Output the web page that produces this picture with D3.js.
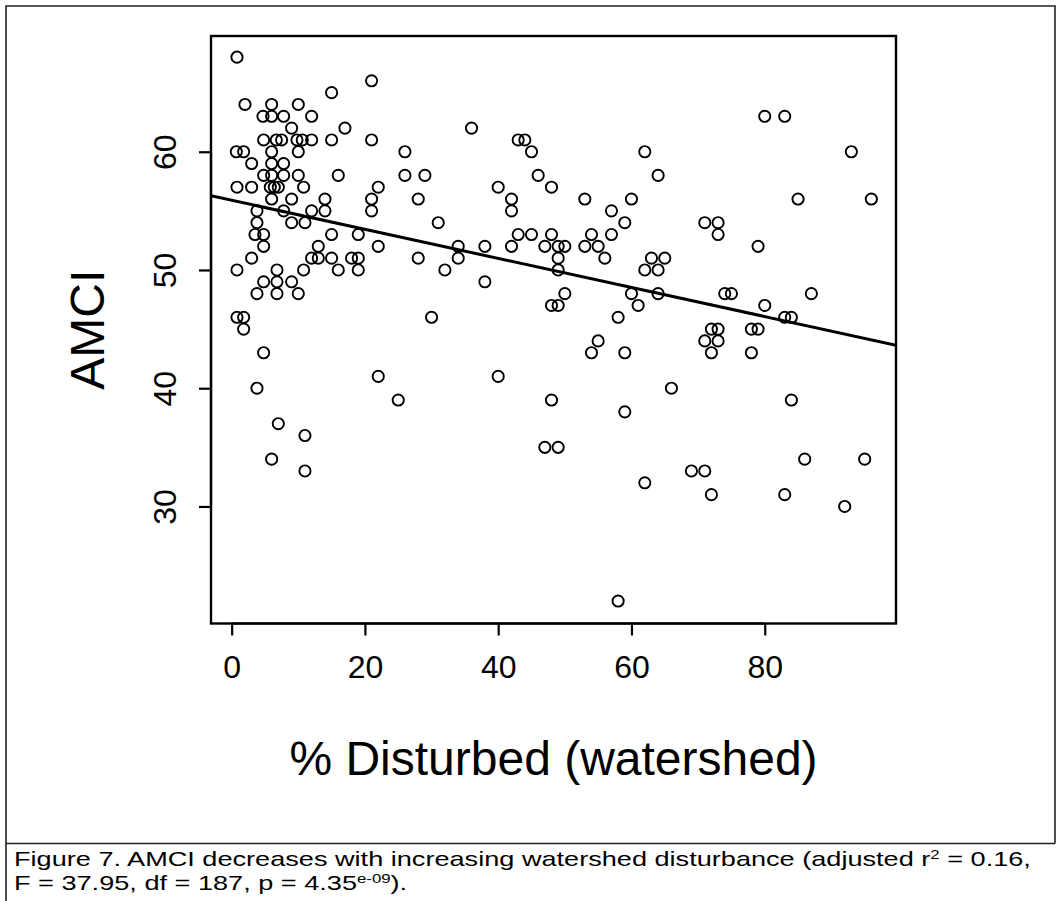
<!DOCTYPE html>
<html>
<head>
<meta charset="utf-8">
<script src="https://cdn.jsdelivr.net/npm/d3@7"></script>
<style>
  body { margin: 0; background: #fff; }
  svg { display: block; }
  text { font-family: "Liberation Sans", Arial, Helvetica, sans-serif; fill: #000; }
</style>
</head>
<body>
<svg id="fig" width="1061" height="901"></svg>
<script>
// % of watershed disturbed and AMCI score for each site (paired by index)
const disturbed = [
  0.8,
  21,
  15,
  2, 6, 10,
  4.7, 6, 7.8, 12, 80, 83,
  9, 17, 36,
  4.8, 6.7, 7.5, 9.8, 10.6, 12, 15, 21, 43, 44,
  0.7, 1.8, 6, 10, 26, 45, 62, 93,
  3, 6, 7.8,
  4.8, 6, 7.8, 10, 16, 26, 29, 46, 64,
  0.8, 3, 5.8, 6.4, 7, 10.8, 22, 40, 48,
  6, 9, 14, 21, 28, 42, 53, 60, 85, 96,
  3.8, 7.8, 12, 14, 21, 42, 57,
  3.8, 9, 11, 31, 59, 71, 73,
  3.5, 4.8, 15, 19, 43, 45, 48, 54, 57, 73,
  4.8, 13, 22, 34, 38, 42, 47, 49, 50, 53, 55, 79,
  3, 12, 13, 15, 18, 19, 28, 34, 49, 56, 63, 65,
  0.8, 6.8, 10.8, 16, 19, 32, 49, 62, 64,
  4.8, 6.8, 9, 38,
  3.8, 6.8, 10, 50, 60, 64, 74, 75, 87,
  48, 49, 61, 80,
  0.8, 1.8, 30, 58, 83, 84,
  1.8, 72, 73, 78, 79,
  55, 71, 73,
  4.8, 54, 59, 72, 78,
  22, 40,
  3.8, 66,
  25, 48, 84,
  59,
  7,
  11,
  47, 49,
  6, 86, 95,
  11, 69, 71,
  62,
  72, 83,
  92,
  58
];
const amci = [
  68,
  66,
  65,
  64, 64, 64,
  63, 63, 63, 63, 63, 63,
  62, 62, 62,
  61, 61, 61, 61, 61, 61, 61, 61, 61, 61,
  60, 60, 60, 60, 60, 60, 60, 60,
  59, 59, 59,
  58, 58, 58, 58, 58, 58, 58, 58, 58,
  57, 57, 57, 57, 57, 57, 57, 57, 57,
  56, 56, 56, 56, 56, 56, 56, 56, 56, 56,
  55, 55, 55, 55, 55, 55, 55,
  54, 54, 54, 54, 54, 54, 54,
  53, 53, 53, 53, 53, 53, 53, 53, 53, 53,
  52, 52, 52, 52, 52, 52, 52, 52, 52, 52, 52, 52,
  51, 51, 51, 51, 51, 51, 51, 51, 51, 51, 51, 51,
  50, 50, 50, 50, 50, 50, 50, 50, 50,
  49, 49, 49, 49,
  48, 48, 48, 48, 48, 48, 48, 48, 48,
  47, 47, 47, 47,
  46, 46, 46, 46, 46, 46,
  45, 45, 45, 45, 45,
  44, 44, 44,
  43, 43, 43, 43, 43,
  41, 41,
  40, 40,
  39, 39, 39,
  38,
  37,
  36,
  35, 35,
  34, 34, 34,
  33, 33, 33,
  32,
  31, 31,
  30,
  22
];

const xTicks = [0, 20, 40, 60, 80];
const yTicks = [30, 40, 50, 60];

// Least-squares fit reported with the figure: AMCI = a + b * disturbed
const fitIntercept = 55.9;
const fitSlope = -0.123;

const xLabel = "% Disturbed (watershed)";
const yLabel = "AMCI";
const captionLine1 = ["Figure 7. AMCI decreases with increasing watershed disturbance (adjusted r", "2", " = 0.16,"];
const captionLine2 = ["F = 37.95, df = 187, p = 4.35", "e-09", ")."];

const points = disturbed.map((d, i) => ({ x: d, y: amci[i] }));

const svg = d3.select("#fig");
svg.append("rect").attr("width", 1061).attr("height", 901).attr("fill", "#fff");

// plot region
const box = { left: 211, right: 896, top: 36, bottom: 623.5 };
const x = d3.scaleLinear().domain([-3.1, 99.7]).range([box.left, box.right]);
const y = d3.scaleLinear().domain([20.1, 69.79]).range([box.bottom, box.top]);

// outer figure frame and caption divider
const frame = svg.append("g").attr("fill", "none").attr("stroke", "#222").attr("stroke-width", 1.6);
frame.append("path").attr("d", "M6,901 V6 H1055 V843.5");
frame.append("line").attr("x1", 6).attr("x2", 1055).attr("y1", 843.5).attr("y2", 843.5);

// clip for marks inside the plotting box
svg.append("clipPath").attr("id", "plotclip")
  .append("rect")
  .attr("x", box.left).attr("y", box.top)
  .attr("width", box.right - box.left).attr("height", box.bottom - box.top);

// points
svg.append("g")
  .selectAll("circle")
  .data(points)
  .join("circle")
  .attr("cx", d => x(d.x))
  .attr("cy", d => y(d.y))
  .attr("r", 5.6)
  .attr("fill", "none")
  .attr("stroke", "#000")
  .attr("stroke-width", 1.9);

// regression line across the full plot width
const [x0, x1] = x.domain();
svg.append("line")
  .attr("clip-path", "url(#plotclip)")
  .attr("x1", x(x0)).attr("y1", y(fitIntercept + fitSlope * x0))
  .attr("x2", x(x1)).attr("y2", y(fitIntercept + fitSlope * x1))
  .attr("stroke", "#000")
  .attr("stroke-width", 3);

// axes
const tickLen = 12;
const xAxis = svg.append("g")
  .attr("transform", `translate(0,${box.bottom})`)
  .call(d3.axisBottom(x).tickValues(xTicks).tickSize(tickLen).tickPadding(20).tickSizeOuter(0));
xAxis.select(".domain").attr("d", `M${x(xTicks[0])},0H${x(xTicks[xTicks.length - 1])}`);

const yAxis = svg.append("g")
  .attr("transform", `translate(${box.left},0)`)
  .call(d3.axisLeft(y).tickValues(yTicks).tickSize(tickLen).tickSizeOuter(0));
yAxis.select(".domain").attr("d", `M0,${y(yTicks[0])}V${y(yTicks[yTicks.length - 1])}`);

[xAxis, yAxis].forEach(g => {
  g.selectAll(".domain").attr("stroke", "#000").attr("stroke-width", 2.2);
  g.selectAll(".tick line").attr("stroke", "#000").attr("stroke-width", 2.2);
  g.selectAll(".tick text")
    .attr("font-family", "Liberation Sans, Arial, sans-serif")
    .attr("font-size", 32)
    .attr("fill", "#000");
});
xAxis.selectAll(".tick text").attr("dy", "0.71em");

// y tick labels read upward, parallel to the axis
yAxis.selectAll(".tick text")
  .attr("x", null).attr("dy", null)
  .attr("text-anchor", "middle")
  .attr("transform", "translate(-46,0) rotate(-90)")
  .attr("dy", "0.35em");

// plotting box
svg.append("rect")
  .attr("x", box.left).attr("y", box.top)
  .attr("width", box.right - box.left).attr("height", box.bottom - box.top)
  .attr("fill", "none").attr("stroke", "#000").attr("stroke-width", 2.4);

// axis titles
svg.append("text")
  .attr("x", (box.left + box.right) / 2).attr("y", 775)
  .attr("text-anchor", "middle")
  .attr("font-size", 48)
  .text(xLabel);

svg.append("text")
  .attr("transform", `translate(104,${(box.top + box.bottom) / 2}) rotate(-90)`)
  .attr("text-anchor", "middle")
  .attr("font-size", 48)
  .text(yLabel);

// caption, two lines with superscripts
function captionLine(parts, baseline) {
  const t = svg.append("text")
    .attr("x", 0).attr("y", 0)
    .attr("font-size", 21);
  t.append("tspan").text(parts[0]);
  t.append("tspan").attr("font-size", 13).attr("dy", -7.5).text(parts[1]);
  t.append("tspan").attr("dy", 7.5).text(parts[2]);
  return { node: t, baseline };
}
const l1 = captionLine(captionLine1, 866);
const l2 = captionLine(captionLine2, 890);
const capLeft = 14, capRight = 1031;
const sx = (capRight - capLeft) / l1.node.node().getComputedTextLength();
[l1, l2].forEach(l => l.node.attr("transform", `translate(${capLeft},${l.baseline}) scale(${sx},1)`));
</script>
</body>
</html>
